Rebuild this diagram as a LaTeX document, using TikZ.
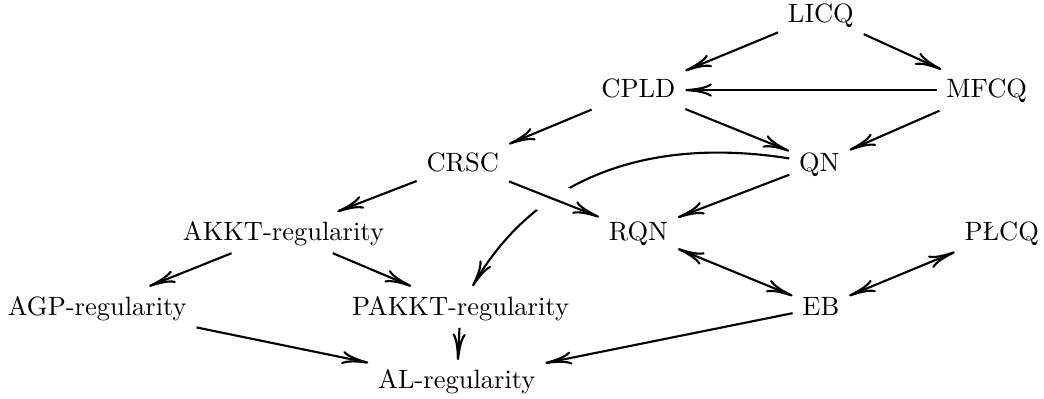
\documentclass[tikz,border=0pt]{standalone}
\usepackage{fontspec}
\usepackage{tikz}
\usetikzlibrary{arrows.meta}

\begin{document}
\begin{tikzpicture}[>={To[length=10pt,width=5pt]}, thick,
    cond/.style={anchor=base, text depth=.25ex},
    crossing/.style={preaction={draw=white, -, line width=12pt, shorten <=8pt, shorten >=8pt}}]
    \useasboundingbox (0,0) rectangle (13.85,-5.28);

    \node [cond] (licq) at (10.89,-0.30) {LICQ};
    \node [cond] (cpld) at (8.47,-1.30) {CPLD};
    \node [cond] (mfcq) at (13.09,-1.30) {MFCQ};
    \node [cond] (crsc) at (6.14,-2.27) {CRSC};
    \node [cond] (qn) at (10.87,-2.27) {QN};
    \node [cond] (akkt) at (3.76,-3.19) {AKKT-regularity};
    \node [cond] (rqn) at (8.47,-3.19) {RQN};
    \node [cond] (plcq) at (13.29,-3.19) {PŁCQ};
    \node [cond] (agp) at (1.29,-4.18) {AGP-regularity};
    \node [cond] (pakkt) at (6.11,-4.18) {PAKKT-regularity};
    \node [cond] (eb) at (10.89,-4.18) {EB};
    \node [cond] (al) at (6.06,-5.16) {AL-regularity};

    \draw[->] (licq) -- (cpld);
    \draw[->] (licq) -- (mfcq);
    \draw[->] (mfcq) -- (cpld);
    \draw[->] (cpld) -- (crsc);
    \draw[->] (cpld) -- (qn);
    \draw[->] (mfcq) -- (qn);
    \draw[->] (crsc) -- (akkt);
    \draw[->] (qn) to[out=171, in=60] (pakkt);
    \draw[->, crossing] (crsc) -- (rqn);
    \draw[->] (qn) -- (rqn);
    \draw[->] (akkt) -- (agp);
    \draw[->] (akkt) -- (pakkt);
    \draw[<->] (rqn) -- (eb);
    \draw[<->] (eb) -- (plcq);
    \draw[->] (agp) -- (al);
    \draw[->] (pakkt) -- (al);
    \draw[->] (eb) -- (al);
\end{tikzpicture}
\end{document}
